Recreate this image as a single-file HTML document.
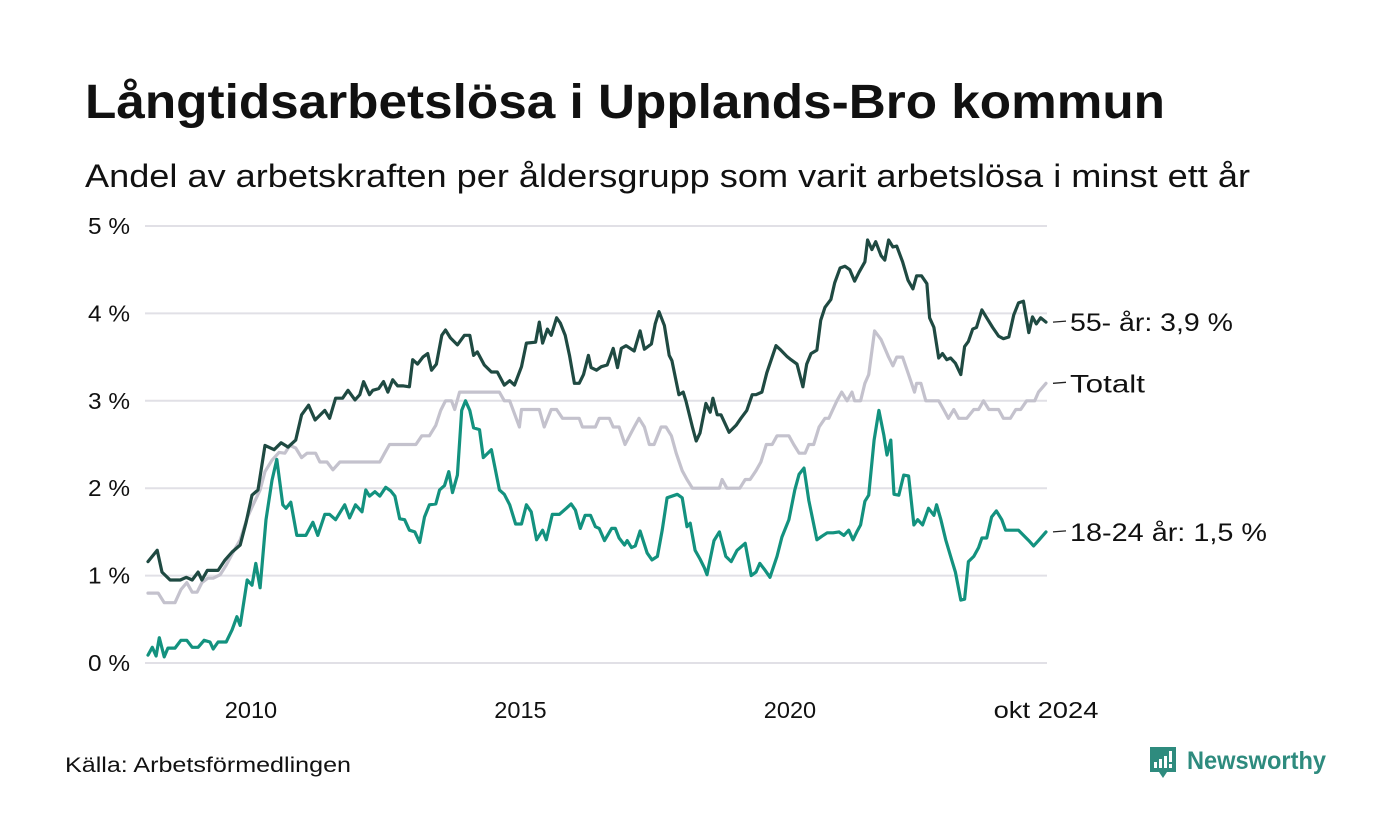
<!DOCTYPE html>
<html><head><meta charset="utf-8"><style>
html,body{margin:0;padding:0;background:#fff;}
svg{display:block;font-family:"Liberation Sans",sans-serif;}
</style></head><body>
<svg id="chart" width="1400" height="840" viewBox="0 0 1400 840" xmlns="http://www.w3.org/2000/svg">
<rect width="1400" height="840" fill="#fff"/>
<text x="85" y="118" font-size="48" font-weight="bold" fill="#111" textLength="1080" lengthAdjust="spacingAndGlyphs">Långtidsarbetslösa i Upplands-Bro kommun</text>
<text x="85" y="187" font-size="32" fill="#111" textLength="1165" lengthAdjust="spacingAndGlyphs">Andel av arbetskraften per åldersgrupp som varit arbetslösa i minst ett år</text>
<g id="grid"></g>
<g id="lines"></g>
<g id="labels"></g>
<text x="65" y="772" font-size="21" fill="#111" textLength="286" lengthAdjust="spacingAndGlyphs">Källa: Arbetsförmedlingen</text>
<g>
<path d="M1150 747 h26 v25 h-9 l-4 6 l-4 -6 h-9 z" fill="#2e8b7e"/>
<rect x="1154" y="762" width="3" height="6" fill="#fff"/>
<rect x="1159" y="759" width="3" height="9" fill="#fff"/>
<rect x="1164" y="756" width="3" height="12" fill="#fff"/>
<rect x="1169" y="751" width="3" height="11" fill="#fff"/>
<rect x="1169" y="764" width="3" height="4" fill="#fff"/>
<text x="1187" y="769" font-size="25" font-weight="bold" fill="#2e8b7e" textLength="139" lengthAdjust="spacingAndGlyphs">Newsworthy</text>
</g>
</svg>
<script>
const yTicks = [0,1,2,3,4,5];
const yTickLabels = ["0 %","1 %","2 %","3 %","4 %","5 %"];
const xTicks = [2010,2015,2020,2024.75];
const xTickLabels = ["2010","2015","2020","okt 2024"];

const oldDates = [2008.09,2008.26,2008.35,2008.50,2008.69,2008.80,2008.91,2009.02,2009.09,2009.19,2009.39,2009.52,2009.65,2009.80,2009.91,2010.02,2010.13,2010.26,2010.43,2010.56,2010.69,2010.83,2010.94,2011.07,2011.19,2011.37,2011.46,2011.57,2011.70,2011.80,2011.93,2012.02,2012.09,2012.20,2012.26,2012.37,2012.46,2012.54,2012.63,2012.72,2012.83,2012.94,2013.00,2013.09,2013.19,2013.28,2013.35,2013.44,2013.54,2013.61,2013.70,2013.83,2013.96,2014.06,2014.13,2014.20,2014.33,2014.46,2014.57,2014.70,2014.80,2014.89,2015.02,2015.11,2015.28,2015.35,2015.41,2015.50,2015.57,2015.67,2015.74,2015.83,2015.91,2016.00,2016.09,2016.17,2016.26,2016.31,2016.41,2016.50,2016.61,2016.72,2016.80,2016.87,2016.96,2017.11,2017.22,2017.30,2017.43,2017.50,2017.57,2017.67,2017.76,2017.81,2017.94,2018.02,2018.07,2018.19,2018.26,2018.33,2018.44,2018.52,2018.57,2018.65,2018.72,2018.87,2019.00,2019.09,2019.20,2019.30,2019.37,2019.48,2019.57,2019.74,2019.83,2019.94,2020.02,2020.13,2020.24,2020.31,2020.39,2020.50,2020.57,2020.65,2020.76,2020.83,2020.93,2021.02,2021.11,2021.20,2021.28,2021.39,2021.44,2021.52,2021.59,2021.69,2021.76,2021.83,2021.91,2021.98,2022.09,2022.19,2022.28,2022.35,2022.44,2022.54,2022.59,2022.67,2022.76,2022.83,2022.91,2022.98,2023.07,2023.17,2023.24,2023.31,2023.39,2023.46,2023.56,2023.65,2023.76,2023.87,2023.96,2024.06,2024.15,2024.24,2024.33,2024.43,2024.50,2024.57,2024.65,2024.75];
const oldValues = [1.16,1.29,1.04,0.95,0.95,0.98,0.95,1.04,0.95,1.06,1.06,1.18,1.27,1.35,1.61,1.92,1.98,2.49,2.44,2.52,2.47,2.55,2.84,2.95,2.78,2.89,2.80,3.03,3.03,3.12,3.01,3.07,3.22,3.07,3.12,3.14,3.22,3.10,3.24,3.17,3.17,3.16,3.47,3.42,3.50,3.54,3.35,3.42,3.75,3.81,3.72,3.64,3.75,3.75,3.52,3.56,3.41,3.33,3.33,3.18,3.23,3.18,3.39,3.66,3.67,3.90,3.66,3.82,3.75,3.95,3.89,3.75,3.52,3.20,3.20,3.30,3.52,3.38,3.35,3.39,3.41,3.60,3.38,3.60,3.63,3.57,3.80,3.59,3.65,3.88,4.02,3.86,3.52,3.46,3.07,3.10,3.00,2.70,2.54,2.63,2.97,2.87,3.03,2.84,2.84,2.64,2.72,2.80,2.89,3.07,3.07,3.10,3.32,3.63,3.58,3.51,3.47,3.42,3.16,3.42,3.54,3.58,3.92,4.07,4.16,4.35,4.52,4.54,4.50,4.37,4.47,4.59,4.84,4.73,4.82,4.66,4.61,4.84,4.76,4.77,4.59,4.38,4.28,4.43,4.43,4.34,3.95,3.84,3.49,3.54,3.47,3.49,3.43,3.30,3.62,3.68,3.82,3.84,4.04,3.95,3.84,3.74,3.71,3.73,3.98,4.12,4.14,3.78,3.96,3.88,3.95,3.90];

const totDates = [2008.09,2008.28,2008.39,2008.59,2008.70,2008.81,2008.91,2009.00,2009.09,2009.20,2009.30,2009.43,2009.54,2009.67,2009.80,2009.93,2010.04,2010.17,2010.26,2010.39,2010.52,2010.63,2010.72,2010.83,2010.94,2011.04,2011.20,2011.28,2011.41,2011.52,2011.65,2012.39,2012.48,2012.57,2013.06,2013.17,2013.31,2013.43,2013.52,2013.61,2013.72,2013.78,2013.87,2014.61,2014.70,2014.80,2014.98,2015.02,2015.35,2015.44,2015.57,2015.67,2015.78,2016.09,2016.15,2016.39,2016.46,2016.65,2016.72,2016.83,2016.94,2017.11,2017.20,2017.30,2017.39,2017.48,2017.61,2017.70,2017.80,2017.89,2018.00,2018.09,2018.19,2018.69,2018.74,2018.83,2019.07,2019.17,2019.26,2019.37,2019.46,2019.56,2019.67,2019.76,2019.98,2020.07,2020.17,2020.28,2020.35,2020.44,2020.54,2020.65,2020.72,2020.87,2020.96,2021.06,2021.15,2021.20,2021.31,2021.39,2021.46,2021.57,2021.69,2021.83,2021.91,2021.98,2022.09,2022.20,2022.31,2022.35,2022.43,2022.52,2022.76,2022.85,2022.94,2023.04,2023.13,2023.28,2023.41,2023.50,2023.59,2023.69,2023.87,2023.96,2024.09,2024.19,2024.28,2024.39,2024.54,2024.61,2024.75];
const totValues = [0.80,0.80,0.69,0.69,0.84,0.92,0.81,0.81,0.92,0.97,0.97,1.01,1.12,1.27,1.41,1.66,1.81,1.98,2.19,2.32,2.41,2.40,2.49,2.46,2.35,2.40,2.40,2.30,2.30,2.21,2.30,2.30,2.40,2.5,2.5,2.6,2.6,2.72,2.89,3.0,3.0,2.9,3.1,3.1,3.0,3.0,2.7,2.9,2.9,2.7,2.9,2.9,2.8,2.8,2.7,2.7,2.8,2.8,2.7,2.7,2.5,2.7,2.8,2.7,2.5,2.5,2.7,2.7,2.6,2.4,2.2,2.1,2.0,2.0,2.1,2.0,2.0,2.1,2.1,2.2,2.3,2.5,2.5,2.6,2.6,2.5,2.4,2.4,2.5,2.5,2.7,2.8,2.8,3.0,3.1,3.0,3.1,3.0,3.0,3.2,3.3,3.8,3.7,3.5,3.4,3.5,3.5,3.3,3.1,3.2,3.2,3.0,3.0,2.9,2.8,2.9,2.8,2.8,2.9,2.9,3.0,2.9,2.9,2.8,2.8,2.9,2.9,3.0,3.0,3.1,3.2];

const youngDates = [2008.09,2008.17,2008.24,2008.30,2008.39,2008.46,2008.59,2008.70,2008.81,2008.91,2009.02,2009.13,2009.24,2009.30,2009.39,2009.54,2009.65,2009.74,2009.80,2009.93,2010.02,2010.09,2010.17,2010.28,2010.39,2010.48,2010.59,2010.65,2010.74,2010.85,2011.02,2011.15,2011.24,2011.37,2011.46,2011.57,2011.74,2011.83,2011.94,2012.06,2012.13,2012.20,2012.30,2012.39,2012.50,2012.59,2012.67,2012.76,2012.85,2012.94,2013.04,2013.13,2013.22,2013.31,2013.43,2013.50,2013.59,2013.67,2013.74,2013.83,2013.91,2013.98,2014.06,2014.13,2014.24,2014.31,2014.46,2014.61,2014.70,2014.80,2014.91,2015.02,2015.11,2015.20,2015.30,2015.41,2015.48,2015.59,2015.72,2015.85,2015.94,2016.02,2016.11,2016.20,2016.30,2016.39,2016.46,2016.56,2016.69,2016.76,2016.83,2016.93,2016.98,2017.06,2017.13,2017.22,2017.35,2017.44,2017.54,2017.63,2017.72,2017.91,2018.00,2018.09,2018.15,2018.24,2018.33,2018.41,2018.46,2018.59,2018.69,2018.81,2018.91,2019.02,2019.17,2019.28,2019.37,2019.44,2019.54,2019.63,2019.76,2019.85,2019.98,2020.09,2020.17,2020.26,2020.35,2020.50,2020.59,2020.69,2020.80,2020.91,2021.00,2021.09,2021.17,2021.24,2021.31,2021.39,2021.46,2021.56,2021.65,2021.74,2021.80,2021.87,2021.93,2022.02,2022.11,2022.20,2022.30,2022.37,2022.46,2022.57,2022.67,2022.72,2022.80,2022.89,2023.00,2023.07,2023.17,2023.24,2023.31,2023.41,2023.50,2023.56,2023.65,2023.74,2023.83,2023.93,2024.00,2024.24,2024.43,2024.52,2024.61,2024.75];
const youngValues = [0.09,0.18,0.08,0.29,0.07,0.17,0.17,0.26,0.26,0.18,0.18,0.26,0.24,0.16,0.24,0.24,0.38,0.53,0.43,0.95,0.89,1.14,0.86,1.64,2.09,2.33,1.81,1.77,1.84,1.46,1.46,1.61,1.46,1.70,1.70,1.64,1.81,1.66,1.81,1.73,1.98,1.91,1.96,1.91,2.01,1.97,1.91,1.65,1.64,1.52,1.50,1.38,1.67,1.81,1.82,1.98,2.03,2.19,1.95,2.15,2.89,3.0,2.89,2.69,2.67,2.35,2.44,1.98,1.93,1.81,1.59,1.59,1.81,1.73,1.41,1.52,1.41,1.70,1.70,1.77,1.82,1.75,1.54,1.69,1.69,1.56,1.54,1.40,1.54,1.54,1.43,1.35,1.40,1.32,1.34,1.51,1.26,1.18,1.22,1.52,1.89,1.93,1.89,1.56,1.60,1.29,1.19,1.09,1.01,1.40,1.50,1.22,1.16,1.29,1.37,1.00,1.04,1.14,1.06,0.98,1.22,1.44,1.64,1.98,2.16,2.23,1.86,1.41,1.45,1.49,1.49,1.50,1.46,1.52,1.41,1.50,1.58,1.85,1.92,2.55,2.89,2.61,2.38,2.55,1.93,1.92,2.15,2.14,1.58,1.64,1.58,1.77,1.69,1.81,1.64,1.41,1.18,1.04,0.72,0.73,1.16,1.22,1.32,1.43,1.43,1.67,1.74,1.64,1.52,1.52,1.40,1.34,1.40,1.5];

const seriesLabels = ["Totalt","55- år: 3,9 %","18-24 år: 1,5 %"];

const NS="http://www.w3.org/2000/svg";
const X0=148, X1=1046, Y0=663, Y1=226;
const D0=2008.09, D1=2024.75;
function xs(d){return X0+(d-D0)/(D1-D0)*(X1-X0);}
function ys(v){return Y0-(v/5)*(Y0-Y1);}
function mk(tag,attrs,parent){const e=document.createElementNS(NS,tag);for(const k in attrs)e.setAttribute(k,attrs[k]);parent.appendChild(e);return e;}
function fitWidth(el,w){el.setAttribute('textLength',w);el.setAttribute('lengthAdjust','spacingAndGlyphs');}

const grid=document.getElementById('grid');
yTicks.forEach((t,i)=>{
  const l=mk('line',{x1:145,x2:1047,y1:ys(t),y2:ys(t),stroke:'#e1e0e6','stroke-width':2},grid);
  
  
  const tx=mk('text',{x:130,y:ys(t)+8,'text-anchor':'end','font-size':23,fill:'#111'},grid);
  tx.textContent=yTickLabels[i];
  fitWidth(tx,42);
  
  
});
xTicks.forEach((t,i)=>{
  const tx=mk('text',{x:xs(t),y:718,'text-anchor':'middle','font-size':23,fill:'#111'},grid);
  tx.textContent=xTickLabels[i];
  fitWidth(tx,xTickLabels[i].length*13.1);
  
  
});

const lines=document.getElementById('lines');
const labels=document.getElementById('labels');
const series=[
  {d:totDates,v:totValues,c:'#c4c2cd',n:'line-totalt',lab:seriesLabels[0],w:75},
  {d:oldDates,v:oldValues,c:'#1f4a42',n:'line-55-plus',lab:seriesLabels[1],w:163},
  {d:youngDates,v:youngValues,c:'#13927f',n:'line-18-24',lab:seriesLabels[2],w:197}
];
series.forEach(s=>{
  const pts=s.d.map((d,i)=>xs(d).toFixed(1)+','+ys(s.v[i]).toFixed(1)).join(' ');
  const p=mk('polyline',{points:pts,fill:'none',stroke:s.c,'stroke-width':3.2,'stroke-linejoin':'round','stroke-linecap':'round'},lines);
  
  
  const ly=ys(s.v[s.v.length-1]);
  const tick=mk('line',{x1:1053,x2:1066,y1:ly,y2:ly-1,stroke:'#222','stroke-width':1.3},labels);
  
  
  const t=mk('text',{x:1070,y:ly+9,'font-size':25,fill:'#111'},labels);
  t.textContent=s.lab;
  fitWidth(t,s.w);
  
  
});
</script>
</body></html>
